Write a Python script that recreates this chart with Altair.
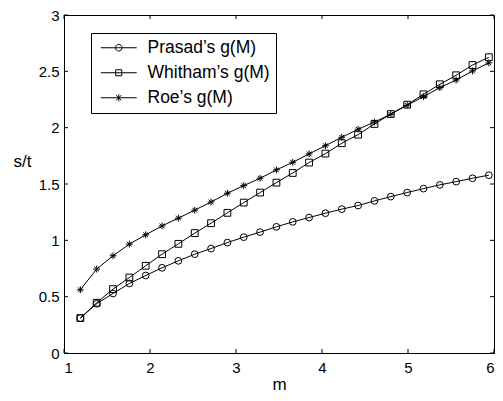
import altair as alt
import pandas as pd

# ---- data ----
m_values = [1.19, 1.38, 1.57, 1.76, 1.95, 2.14, 2.33, 2.52, 2.71, 2.90,
            3.09, 3.28, 3.47, 3.66, 3.85, 4.04, 4.23, 4.42, 4.61, 4.80,
            4.99, 5.18, 5.37, 5.56, 5.75, 5.94]
prasad = [0.31, 0.437, 0.528, 0.617, 0.688, 0.756, 0.818, 0.877, 0.927, 0.98,
          1.028, 1.073, 1.12, 1.164, 1.202, 1.241, 1.277, 1.309, 1.35, 1.388,
          1.424, 1.459, 1.492, 1.521, 1.551, 1.578]
whitham = [0.31, 0.446, 0.567, 0.67, 0.774, 0.877, 0.969, 1.064, 1.152, 1.244,
           1.335, 1.424, 1.512, 1.598, 1.69, 1.77, 1.862, 1.938, 2.033, 2.121,
           2.204, 2.296, 2.385, 2.465, 2.556, 2.625]
roe = [0.561, 0.745, 0.863, 0.966, 1.049, 1.128, 1.197, 1.268, 1.34, 1.418,
       1.486, 1.551, 1.625, 1.693, 1.767, 1.84, 1.915, 1.986, 2.05, 2.119,
       2.199, 2.275, 2.355, 2.423, 2.503, 2.575]
series_names = ["Prasad\u2019s g(M)", "Whitham\u2019s g(M)", "Roe\u2019s g(M)"]
x_ticks = [1, 2, 3, 4, 5, 6]
y_ticks = [0, 0.5, 1, 1.5, 2, 2.5, 3]

rows = []
for name, vals in zip(series_names, [prasad, whitham, roe]):
    for xv, yv in zip(m_values, vals):
        rows.append({"m": xv, "v": yv, "series": name})
df = pd.DataFrame(rows)

W, H = 430, 338
FONT = "Liberation Sans"

# marker shapes
STAR = "M-1,0L1,0M0,-1L0,1M-0.7,-0.7L0.7,0.7M-0.7,0.7L0.7,-0.7"
marker_range = ["circle", "square", STAR]

# legend symbols: line with marker in the middle (unit = 7px)
L = 2.57
LEG_CIRCLE = (f"M-{L},0L{L},0M-0.47,0A0.47,0.47 0 1,1 0.47,0"
              f"A0.47,0.47 0 1,1 -0.47,0Z")
LEG_SQUARE = f"M-{L},0L{L},0M-0.43,-0.43L0.43,-0.43L0.43,0.43L-0.43,0.43Z"
LEG_STAR = (f"M-{L},0L{L},0M0,-0.5L0,0.5M-0.36,-0.36L0.36,0.36"
            f"M-0.36,0.36L0.36,-0.36")
legend_range = [LEG_CIRCLE, LEG_SQUARE, LEG_STAR]

xs = alt.Scale(domain=[1, 6], nice=False, zero=False)
ys = alt.Scale(domain=[0, 3], nice=False, zero=True)

x_enc = alt.X("m:Q", scale=xs, axis=alt.Axis(
    values=x_ticks, ticks=False, grid=False, format="~g",
    labelFontSize=15, labelFont=FONT, labelColor="black", labelPadding=7,
    domainColor="black", title="m", titleFont=FONT, titleFontSize=17,
    titleFontWeight="normal", titleColor="black",
    titleBaseline="alphabetic", titleY=36))
y_enc = alt.Y("v:Q", scale=ys, axis=alt.Axis(
    values=y_ticks, ticks=False, grid=False, format="~g",
    labelFontSize=15, labelFont=FONT, labelColor="black", labelPadding=5,
    domainColor="black", title="s/t", titleFont=FONT, titleFontSize=17,
    titleFontWeight="normal", titleColor="black", titleAngle=0,
    titleAlign="center", titleBaseline="alphabetic", titleX=-42, titleY=151))

base = alt.Chart(df)

lines = base.mark_line(color="black", strokeWidth=1).encode(
    x=x_enc, y=y_enc, detail="series:N", order="m:Q")

points = base.mark_point(filled=False, color="black", strokeWidth=1, size=46, opacity=1).encode(
    x="m:Q", y="v:Q",
    shape=alt.Shape("series:N",
                    scale=alt.Scale(domain=series_names, range=marker_range),
                    legend=None))

legend_layer = base.transform_filter("false").mark_point(
    filled=False, color="black", strokeWidth=1, opacity=1).encode(
    x="m:Q", y="v:Q",
    shape=alt.Shape("series:N",
                    scale=alt.Scale(domain=series_names, range=legend_range),
                    legend=alt.Legend(
                        title=None, orient="none", legendX=27, legendY=18,
                        strokeColor="black", fillColor="white", padding=6,
                        symbolSize=196, symbolStrokeWidth=1,
                        symbolStrokeColor="black", symbolFillColor="transparent",
                        symbolOffset=13, labelOffset=20,
                        labelFont=FONT, labelFontSize=17.5, labelColor="black",
                        rowPadding=6, cornerRadius=0)))

tick_df = pd.DataFrame({"t": x_ticks})
ytick_df = pd.DataFrame({"t": y_ticks})
tick_style = dict(color="black", strokeWidth=1)
xt_bottom = alt.Chart(tick_df).mark_rule(**tick_style).encode(
    x="t:Q", y=alt.value(H), y2=alt.value(H - 4))
xt_top = alt.Chart(tick_df).mark_rule(**tick_style).encode(
    x="t:Q", y=alt.value(0), y2=alt.value(4))
yt_left = alt.Chart(ytick_df).mark_rule(**tick_style).encode(
    y=alt.Y("t:Q"), x=alt.value(0), x2=alt.value(4))
yt_right = alt.Chart(ytick_df).mark_rule(**tick_style).encode(
    y=alt.Y("t:Q"), x=alt.value(W), x2=alt.value(W - 4))

chart = alt.layer(
    lines, points, xt_bottom, xt_top, yt_left, yt_right, legend_layer
).resolve_scale(shape="independent").properties(
    width=W, height=H,
    autosize=alt.AutoSizeParams(type="none"),
    padding={"left": 56, "top": 7, "right": 1, "bottom": 40},
    background="white",
).configure_view(stroke="black", strokeWidth=1)

chart.save("out.html", embed_options={"renderer": "svg", "actions": False})
